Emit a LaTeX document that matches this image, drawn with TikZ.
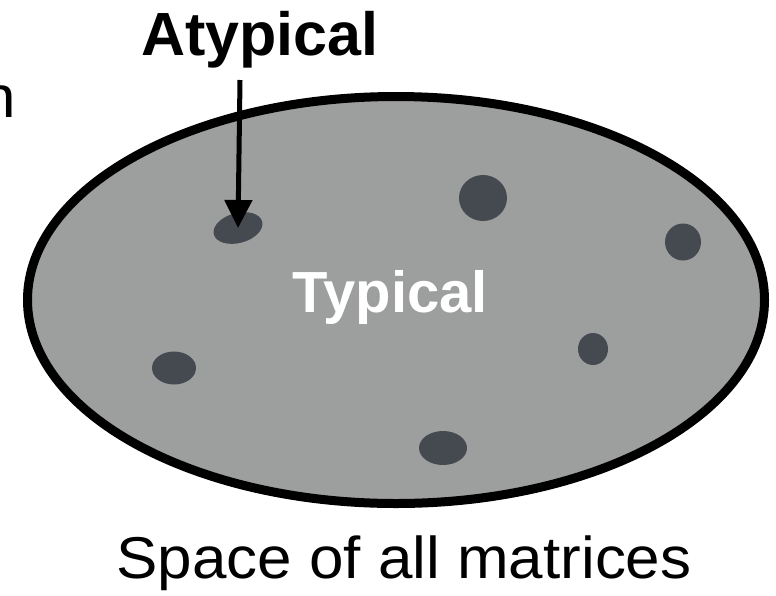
\documentclass[tikz,border=0pt]{standalone}
\usepackage{fontspec}
\setmainfont{Liberation Sans}
\newfontfamily\widefont[FakeStretch=1.05]{Liberation Sans}
\usetikzlibrary{arrows.meta, shapes.geometric}
\definecolor{blobfill}{RGB}{156, 159, 158}
\definecolor{spotink}{RGB}{69, 73, 80}

\begin{document}
\begin{tikzpicture}[
    x=1pt, y=-1pt,
    blob/.style  = {ellipse, draw=black, fill=blobfill, line width=9pt, inner sep=0pt},
    spot/.style  = {ellipse, fill=spotink, inner sep=0pt},
    hdr/.style   = {font=\fontsize{61}{70}\selectfont\bfseries, inner sep=0pt, anchor=base},
    inlbl/.style = {font=\fontsize{58}{66}\selectfont\bfseries, text=white, inner sep=0pt, anchor=base},
    sublbl/.style = {font=\widefont\fontsize{59}{68}\selectfont, inner sep=0pt},
    arr/.style   = {line width=5pt, -{Triangle[width=27pt, length=28pt]}},
  ]
    % frame of the picture
    \clip (0,0) rectangle (776,595);

    % --- nodes ---
    % the space itself
    \node[blob, minimum width=737pt, minimum height=407pt] (space) at (396,300) {};

    % spots
    \node[spot, minimum width=50pt, minimum height=30pt, rotate=15] (d1) at (238,228) {};
    \node[spot, minimum width=48pt, minimum height=46pt] (d2) at (483,198) {};
    \node[spot, minimum width=36pt, minimum height=37pt] (d3) at (683,242) {};
    \node[spot, minimum width=44pt, minimum height=33pt] (d4) at (174,368) {};
    \node[spot, minimum width=30pt, minimum height=32pt] (d5) at (593,349) {};
    \node[spot, minimum width=48pt, minimum height=34pt] (d6) at (443,448) {};

    % labels
    \node[inlbl] (typ) at (390,312) {Typical};
    \node[hdr] (atyp) at (260,55) {Atypical};
    \node[sublbl, anchor=base] (title) at (404,578) {Space of all matrices};
    \node[sublbl, anchor=base east] (frag) at (16,117) {n};

    % --- arrow ---
    \coordinate (atop) at (240,80);
    \draw[arr] (atop) -- (d1.center);

  \end{tikzpicture}
\end{document}
